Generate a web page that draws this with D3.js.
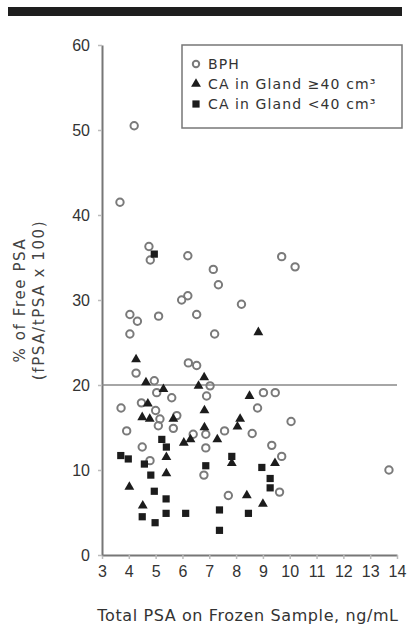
<!DOCTYPE html>
<html>
<head>
<meta charset="utf-8">
<script src="https://cdn.jsdelivr.net/npm/d3@7"></script>
<style>
  body { margin: 0; background: #fff; }
  svg { display: block; font-family: "DejaVu Sans", "Liberation Sans", sans-serif; }
  .axis text { fill: #333; font-size: 16px; font-family: "Liberation Sans", Arial, sans-serif; }
</style>
</head>
<body>
<script>
const w = 410
const h = 625

// values: [total PSA, % free PSA]
const bph = [
  [4.2, 50.5], [3.67, 41.5], [4.75, 36.3], [4.8, 34.7], [6.2, 35.2], [7.15, 33.6],
  [7.34, 31.8], [9.7, 35.1], [10.2, 33.9], [5.97, 30.0], [6.2, 30.5], [8.2, 29.5],
  [4.04, 28.3], [4.32, 27.5], [5.11, 28.1], [6.53, 28.3], [4.04, 26.0], [7.2, 26.0],
  [4.27, 21.4], [6.22, 22.6], [6.53, 22.3], [4.95, 20.5], [5.04, 19.1], [5.6, 18.5],
  [7.03, 19.9], [6.9, 18.7], [3.71, 17.3], [4.47, 17.9], [5.0, 17.0], [5.16, 16.0],
  [5.79, 16.4], [5.66, 14.9], [5.1, 15.2], [6.87, 14.2], [7.57, 14.6], [3.92, 14.6],
  [6.4, 14.2], [4.5, 12.7], [6.87, 12.6], [4.79, 11.1], [6.8, 9.4], [7.71, 7.0],
  [9.02, 19.1], [9.46, 19.1], [8.8, 17.3], [10.05, 15.7], [8.6, 14.3], [9.33, 12.9],
  [9.7, 11.6], [9.62, 7.4], [13.7, 10.0]
]
const caLarge = [
  [8.83, 26.2], [4.27, 23.0], [4.64, 20.3], [5.29, 19.5], [6.81, 20.9], [6.6, 19.9],
  [4.71, 17.8], [4.5, 16.2], [4.78, 16.0], [5.66, 16.0], [6.82, 17.0], [6.82, 15.0],
  [7.3, 13.6], [8.15, 16.0], [8.05, 15.1], [6.05, 13.2], [6.3, 13.6], [5.4, 11.5],
  [7.84, 10.8], [5.4, 9.6], [4.02, 8.0], [4.52, 5.8], [8.5, 18.7], [9.45, 10.8],
  [8.4, 7.0], [9.0, 6.0]
]
const caSmall = [
  [4.95, 35.4], [5.23, 13.6], [5.4, 12.7], [3.7, 11.7], [3.98, 11.3], [4.58, 10.7],
  [6.87, 10.5], [7.84, 11.6], [4.82, 9.4], [4.95, 7.5], [5.39, 6.6], [4.5, 4.5],
  [4.98, 3.8], [5.39, 4.9], [6.12, 4.9], [7.38, 5.3], [7.38, 2.9], [8.96, 10.3],
  [9.27, 9.0], [9.27, 7.9], [8.46, 4.9]
]
const xTicks = [3, 4, 5, 6, 7, 8, 9, 10, 11, 12, 13, 14]
const yTicks = [0, 10, 20, 30, 40, 50, 60]
const refLine = 20
const legendLabels = ['BPH', 'CA in Gland \u226540 cm\u00B3', 'CA in Gland <40 cm\u00B3']

const xScale = d3.scaleLinear().domain([3, 14]).range([102, 397])
const yScale = d3.scaleLinear().domain([0, 60]).range([555, 45])

const svg = d3.select('body').append('svg')
  .attr('width', w)
  .attr('height', h)

// heavy rule at the top of the page
svg.append('rect')
  .attr('x', 8).attr('y', 7)
  .attr('width', 394).attr('height', 9)
  .attr('fill', '#1e1e1e')

const xAxis = svg.append('g')
  .attr('class', 'axis')
  .attr('transform', `translate(0,${yScale(0)})`)
  .call(d3.axisBottom(xScale).tickValues(xTicks).tickSize(4).tickSizeOuter(0).tickPadding(7))
xAxis.select('.domain').attr('stroke', '#777').attr('stroke-width', 2)
xAxis.selectAll('.tick line').attr('stroke', '#bbb').attr('stroke-width', 1.5)

const yAxis = svg.append('g')
  .attr('class', 'axis')
  .attr('transform', `translate(${xScale(3)},0)`)
  .call(d3.axisLeft(yScale).tickValues(yTicks).tickSize(4).tickSizeOuter(0).tickPadding(8))
yAxis.select('.domain').attr('stroke', '#777').attr('stroke-width', 2)
yAxis.selectAll('.tick line').attr('stroke', '#bbb').attr('stroke-width', 1.5)

// 20% cutoff line
svg.append('line')
  .attr('x1', xScale(3)).attr('x2', xScale(14))
  .attr('y1', yScale(refLine)).attr('y2', yScale(refLine))
  .attr('stroke', '#888').attr('stroke-width', 1.5)

const tri = d3.symbol().type(d3.symbolTriangle).size(42)
const sq = d3.symbol().type(d3.symbolSquare).size(52)

svg.append('g').selectAll('circle')
  .data(bph).enter().append('circle')
  .attr('cx', d => xScale(d[0]))
  .attr('cy', d => yScale(d[1]))
  .attr('r', 3.7)
  .attr('fill', 'none')
  .attr('stroke', '#7a7a7a')
  .attr('stroke-width', 2)

svg.append('g').selectAll('path')
  .data(caSmall).enter().append('path')
  .attr('d', sq)
  .attr('transform', d => `translate(${xScale(d[0])},${yScale(d[1])})`)
  .attr('fill', '#1c1c1c')

svg.append('g').selectAll('path')
  .data(caLarge).enter().append('path')
  .attr('d', tri)
  .attr('transform', d => `translate(${xScale(d[0])},${yScale(d[1])})`)
  .attr('fill', '#1c1c1c')

// legend
const legend = svg.append('g')
legend.append('rect')
  .attr('x', 182).attr('y', 45)
  .attr('width', 220).attr('height', 83)
  .attr('fill', '#fff')
  .attr('stroke', '#777').attr('stroke-width', 1.5)

const rows = legend.selectAll('g.row')
  .data(legendLabels).enter().append('g')
  .attr('class', 'row')
  .attr('transform', (d, i) => `translate(196,${64 + i * 20})`)

rows.each(function (d, i) {
  const g = d3.select(this)
  if (i === 0) {
    g.append('circle').attr('r', 3.2).attr('fill', 'none')
      .attr('stroke', '#7a7a7a').attr('stroke-width', 2)
  } else {
    g.append('path').attr('d', i === 1 ? tri : sq).attr('fill', '#1c1c1c')
  }
})

rows.append('text')
  .attr('x', 12)
  .attr('dy', '0.35em')
  .attr('font-size', 14)
  .attr('fill', '#333')
  .attr('letter-spacing', 1.1)
  .text(d => d)

// axis titles
svg.append('text')
  .attr('transform', 'translate(25,300) rotate(-90)')
  .attr('text-anchor', 'middle')
  .attr('font-size', 15)
  .attr('letter-spacing', 1.6)
  .attr('fill', '#444')
  .text('% of Free PSA')

svg.append('text')
  .attr('transform', 'translate(44,300) rotate(-90)')
  .attr('text-anchor', 'middle')
  .attr('font-size', 15)
  .attr('letter-spacing', 1.6)
  .attr('fill', '#444')
  .text('(fPSA/tPSA x 100)')

svg.append('text')
  .attr('x', 248).attr('y', 621)
  .attr('text-anchor', 'middle')
  .attr('font-size', 16)
  .attr('letter-spacing', 0.6)
  .attr('fill', '#333')
  .text('Total PSA on Frozen Sample, ng/mL')
</script>
</body>
</html>
